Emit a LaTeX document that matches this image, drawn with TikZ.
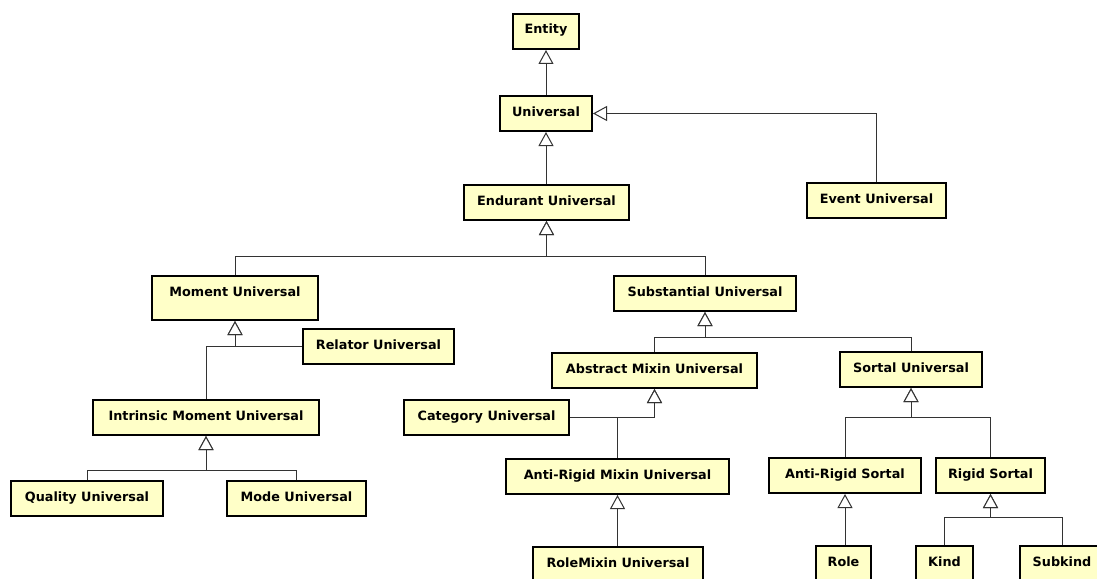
\documentclass[tikz,border=0pt]{standalone}
\usepackage{fontspec}
\setmainfont{DejaVu Sans}
\usetikzlibrary{arrows.meta,shadows}
\definecolor{clsfill}{HTML}{FFFFC8}
\definecolor{wire}{HTML}{333333}
\tikzset{
  cls/.style={draw=black, line width=2pt, fill=clsfill, inner sep=0pt,
    anchor=north west, text height=20pt, text depth=15pt,
    font=\bfseries\fontsize{12.8}{14}\selectfont,
    drop shadow={shadow xshift=1pt, shadow yshift=-1pt, fill=black!30, opacity=0.5}},
  gen/.style={draw=wire, line width=1pt,
    -{Triangle[fill=white, length=14pt, width=15pt, line width=1pt]}},
}
% \umlclass{name}{left}{top}{width}{text}
\newcommand\umlclass[5]{\node[cls, minimum width=#4pt] (#1) at (#2,#3) {#5};}
\begin{document}
\begin{tikzpicture}[x=1pt, y=-1pt]
  \useasboundingbox (0,0) rectangle (1097,578);
  \fill[white] (0,0) rectangle (1097,578);
  \clip (0,0) rectangle (1097,578);

  % classes
  \umlclass{entity}{512}{13}{66}{Entity}
  \umlclass{universal}{499}{95}{92}{Universal}
  \umlclass{endurant}{463}{184}{165}{Endurant Universal}
  \umlclass{event}{806}{182}{139}{Event Universal}
  \node[cls, minimum width=166pt, text depth=24pt] (moment) at (151,275) {Moment Universal};
  \umlclass{substantial}{613}{275}{182}{Substantial Universal}
  \umlclass{relator}{302}{328}{151}{Relator Universal}
  \umlclass{intrinsic}{92}{399}{226}{Intrinsic Moment Universal}
  \umlclass{quality}{10}{480}{152}{Quality Universal}
  \umlclass{mode}{226}{480}{139}{Mode Universal}
  \umlclass{abstract}{551}{352}{205}{Abstract Mixin Universal}
  \umlclass{category}{403}{399}{165}{Category Universal}
  \umlclass{armixin}{505}{458}{223}{Anti-Rigid Mixin Universal}
  \umlclass{rolemixin}{532}{546}{170}{RoleMixin Universal}
  \umlclass{sortal}{839}{351}{142}{Sortal Universal}
  \umlclass{arsortal}{768}{457}{152}{Anti-Rigid Sortal}
  \umlclass{rigid}{935}{457}{109}{Rigid Sortal}
  \umlclass{role}{815}{545}{55}{Role}
  \umlclass{kind}{915}{545}{57}{Kind}
  \umlclass{subkind}{1019}{545}{84}{Subkind}

  % junction points of the generalization sets
  \coordinate (jend) at (endurant.south |- 0,256);
  \coordinate (jmom) at (moment.south |- relator.west);
  \coordinate (jint) at (intrinsic.south |- 0,470);
  \coordinate (jsub) at (substantial.south |- 0,337);
  \coordinate (jabs) at (abstract.south |- category.east);
  \coordinate (jsor) at (sortal.south |- 0,417);
  \coordinate (jrig) at (rigid.south |- 0,517);

  % generalizations
  \draw[gen] (universal.north -| entity.south) -- (entity.south);
  \draw[gen] (endurant.north -| universal.south) -- (universal.south);
  \draw[gen] (event.north) |- (universal.east);
  \draw[gen] (moment.north) |- (jend) -- (endurant.south);
  \draw[gen] (substantial.north) |- (jend) -- (endurant.south);
  \draw[gen] (relator.west) -- (jmom) -- (moment.south);
  \draw[gen] (intrinsic.north) |- (jmom) -- (moment.south);
  \draw[gen] (quality.north) |- (jint) -- (intrinsic.south);
  \draw[gen] (mode.north) |- (jint) -- (intrinsic.south);
  \draw[gen] (abstract.north) |- (jsub) -- (substantial.south);
  \draw[gen] (sortal.north) |- (jsub) -- (substantial.south);
  \draw[gen] (category.east) -- (jabs) -- (abstract.south);
  \draw[gen] (armixin.north) |- (jabs) -- (abstract.south);
  \draw[gen] (rolemixin.north -| armixin.south) -- (armixin.south);
  \draw[gen] (arsortal.north) |- (jsor) -- (sortal.south);
  \draw[gen] (rigid.north) |- (jsor) -- (sortal.south);
  \draw[gen] (role.north -| arsortal.south) -- (arsortal.south);
  \draw[gen] (kind.north) |- (jrig) -- (rigid.south);
  \draw[gen] (subkind.north) |- (jrig) -- (rigid.south);
\end{tikzpicture}
\end{document}
